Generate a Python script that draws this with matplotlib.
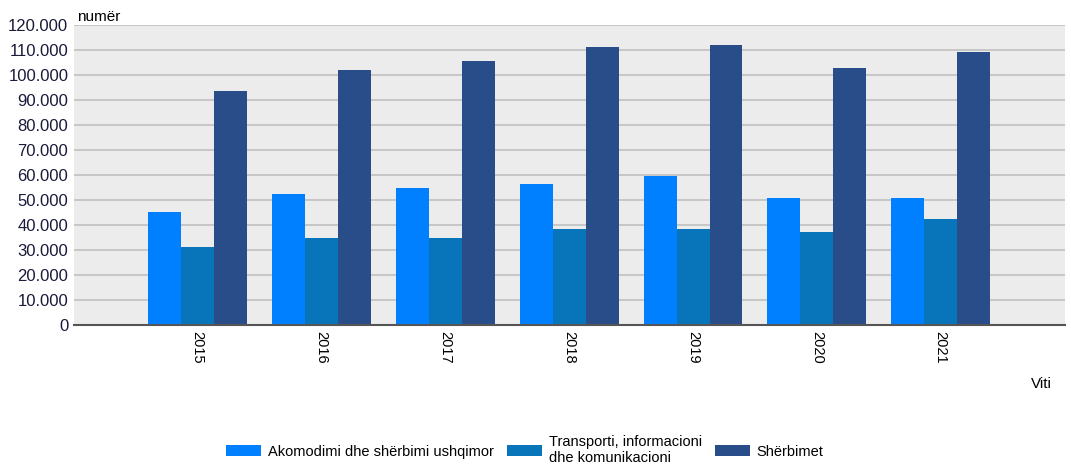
import numpy as np
import matplotlib.pyplot as plt

plt.rcParams['font.family'] = ['Liberation Sans', 'DejaVu Sans']

vitet = ['2015', '2016', '2017', '2018', '2019', '2020', '2021']
akomodimi = [45300, 52400, 54700, 56300, 59500, 50700, 50700]
transporti = [31300, 34700, 34700, 38300, 38300, 37300, 42500]
sherbimet = [93600, 102000, 105500, 111100, 112100, 102700, 109200]

seri = ['Akomodimi dhe shërbimi ushqimor',
        'Transporti, informacioni\ndhe komunikacioni',
        'Shërbimet']
ngjyrat = ['#0080ff', '#0874b9', '#294d89']

fig = plt.figure(figsize=(10.71, 4.68), dpi=100)
ax = fig.add_axes([0.069, 0.3056, 0.925, 0.641])
ax.set_facecolor('#ececec')

x = np.arange(1, len(vitet) + 1)
w = 0.266
for i, (vals, lab, c) in enumerate(zip([akomodimi, transporti, sherbimet], seri, ngjyrat)):
    ax.bar(x + (i - 1) * w, vals, width=w, color=c, label=lab, zorder=3)

ax.set_xlim(0, 8)
ax.set_ylim(0, 120000)
ax.set_yticks(np.arange(0, 120001, 10000))
ax.set_yticklabels([f'{v:,}'.replace(',', '.') for v in range(0, 120001, 10000)], fontsize=12, color='#1a1a3a')
ax.set_xticks(x)
ax.set_xticklabels(vitet, rotation=270, fontsize=10.5)
ax.tick_params(axis='both', length=0, pad=4)
ax.grid(axis='y', color='#c0c0c0', linewidth=1.2, zorder=0)
for s in ['top', 'right', 'left']:
    ax.spines[s].set_visible(False)
ax.spines['bottom'].set_color('#555555')
ax.spines['bottom'].set_linewidth(1.5)
ax.spines['bottom'].set_zorder(4)

fig.text(0.072, 0.955, 'numër', fontsize=11)
fig.text(0.972, 0.172, 'Viti', fontsize=11, ha='center')

fig.legend(loc='lower center', bbox_to_anchor=(0.49, -0.022), ncol=3, frameon=False,
           fontsize=10.5, handlelength=2.4, handleheight=0.8, columnspacing=0.9,
           handletextpad=0.45, labelspacing=0.2)

plt.savefig('out.png')
